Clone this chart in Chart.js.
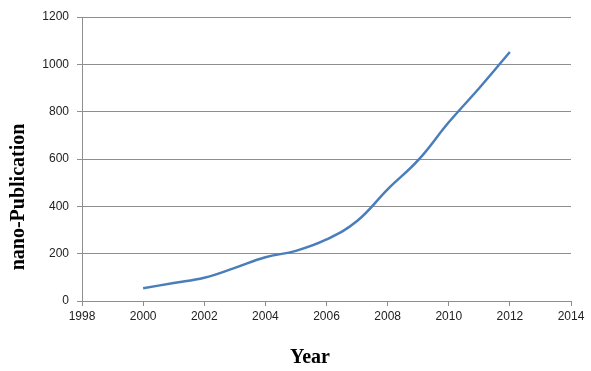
<!DOCTYPE html>
<html>
<head>
<meta charset="utf-8">
<script src="https://cdn.jsdelivr.net/npm/chart.js@4"></script>
<style>
html,body{margin:0;padding:0;background:#fff;}
#wrap{width:591px;height:371px;position:relative;}
</style>
</head>
<body>
<div id="wrap"><canvas id="c" width="591" height="371"></canvas></div>
<script>
const years = [2000, 2001, 2002, 2003, 2004, 2005, 2006, 2007, 2008, 2009, 2010, 2011, 2012];
const publications = [54, 76, 98, 140, 185, 212, 260, 338, 472, 595, 755, 900, 1052];
const xTicks = [1998, 2000, 2002, 2004, 2006, 2008, 2010, 2012, 2014];
const yTicks = [0, 200, 400, 600, 800, 1000, 1200];
const xTitle = 'Year';
const yTitle = 'nano-Publication';

const gridGray = '#8e8e8e';
const tickFont = {family: '"Liberation Sans", Arial, sans-serif', size: 12};

const axisTitles = {
  id: 'axisTitles',
  afterDraw(chart) {
    const ctx = chart.ctx, a = chart.chartArea;
    ctx.save();
    ctx.fillStyle = '#000';
    ctx.font = 'bold 20px "Liberation Serif", "Times New Roman", serif';
    ctx.textAlign = 'center';
    ctx.textBaseline = 'middle';
    ctx.fillText(xTitle, a.left + 228, a.bottom + 57);
    ctx.translate(a.left - 63, a.top + 180);
    ctx.rotate(-Math.PI / 2);
    ctx.fillText(yTitle, 0, 0);
    ctx.restore();
  }
};

new Chart(document.getElementById('c'), {
  type: 'line',
  data: {
    datasets: [{
      data: years.map((y, i) => ({x: y, y: publications[i]})),
      borderColor: '#4A7EBB',
      borderWidth: 2.5,
      pointRadius: 0,
      tension: 0.4,
      fill: false
    }]
  },
  options: {
    responsive: false,
    animation: false,
    devicePixelRatio: 1,
    layout: {padding: {top: 17, right: 20, left: 0, bottom: 0}},
    plugins: {legend: {display: false}, tooltip: {enabled: false}},
    scales: {
      x: {
        type: 'linear',
        min: xTicks[0],
        max: xTicks[xTicks.length - 1],
        afterBuildTicks: s => { s.ticks = xTicks.map(v => ({value: v})); },
        afterFit: s => { s.height = 70; },
        ticks: {font: tickFont, color: '#222', padding: 3, maxRotation: 0, callback: v => String(v)},
        grid: {drawOnChartArea: false, drawTicks: true, tickLength: 5, tickColor: gridGray, lineWidth: 1},
        border: {display: true, color: gridGray, width: 1}
      },
      y: {
        min: yTicks[0],
        max: yTicks[yTicks.length - 1],
        afterBuildTicks: s => { s.ticks = yTicks.map(v => ({value: v})); },
        afterFit: s => { s.width = 82; },
        ticks: {font: tickFont, color: '#222', padding: 8, callback: v => String(v)},
        grid: {color: gridGray, lineWidth: 1, drawTicks: true, tickLength: 5, tickColor: gridGray},
        border: {display: true, color: gridGray, width: 1}
      }
    }
  },
  plugins: [axisTitles]
});
</script>
</body>
</html>
